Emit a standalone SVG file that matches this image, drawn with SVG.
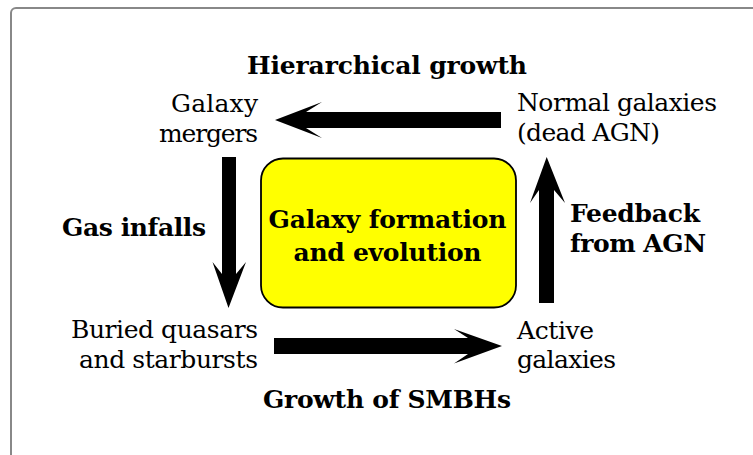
<svg xmlns="http://www.w3.org/2000/svg" width="753" height="455" viewBox="0 0 753 455">
<style>
text{font-family:"DejaVu Serif","Liberation Serif",serif;font-size:25px;fill:#000}
.b{font-weight:bold}
.e{text-anchor:end}
.m{text-anchor:middle}
.arr{fill:#000;stroke:none}
</style>
<rect width="753" height="455" fill="#fff"/>
<rect x="11" y="8" width="800" height="500" rx="5" fill="none" stroke="#888" stroke-width="2"/>
<g id="connectors">
<path class="arr" d="M501,112 L306,112 L322,102 L275,120 L322,138 L306,128 L501,128 Z"/>
<path class="arr" d="M222,157 L222,274 L212.5,262 L228.5,308 L246,262 L236,274 L236,157 Z"/>
<path class="arr" d="M539,303 L539,190 L530,203 L546.7,157 L565,203 L554,190 L554,303 Z"/>
<path class="arr" d="M274,338 L468,338 L454,329 L502,346 L454,363.5 L468,354 L274,354 Z"/>
</g>
<g id="center">
<rect x="261" y="158.5" width="255" height="149" rx="22" fill="#ffff00" stroke="#000" stroke-width="1.8"/>
<text class="b m" x="387.5" y="228" textLength="238">Galaxy formation</text>
<text class="b m" x="387.5" y="261" textLength="188">and evolution</text>
</g>
<g id="galaxy-mergers">
<text class="e" x="258" y="112" textLength="87">Galaxy</text>
<text class="e" x="258" y="142" textLength="99">mergers</text>
</g>
<g id="normal-galaxies">
<text x="517" y="111" textLength="200">Normal galaxies</text>
<text x="517" y="141" textLength="143">(dead AGN)</text>
</g>
<g id="buried-quasars">
<text class="e" x="258" y="338" textLength="187">Buried quasars</text>
<text class="e" x="258" y="368" textLength="179">and starbursts</text>
</g>
<g id="active-galaxies">
<text x="517" y="339" textLength="77">Active</text>
<text x="517" y="368" textLength="99">galaxies</text>
</g>
<g id="labels">
<text class="b m" x="387" y="74" textLength="280">Hierarchical growth</text>
<text class="b" x="62" y="236" textLength="144">Gas infalls</text>
<text class="b" x="570" y="222" textLength="130">Feedback</text>
<text class="b" x="570" y="252" textLength="136">from AGN</text>
<text class="b m" x="387" y="408" textLength="248">Growth of SMBHs</text>
</g>
</svg>
